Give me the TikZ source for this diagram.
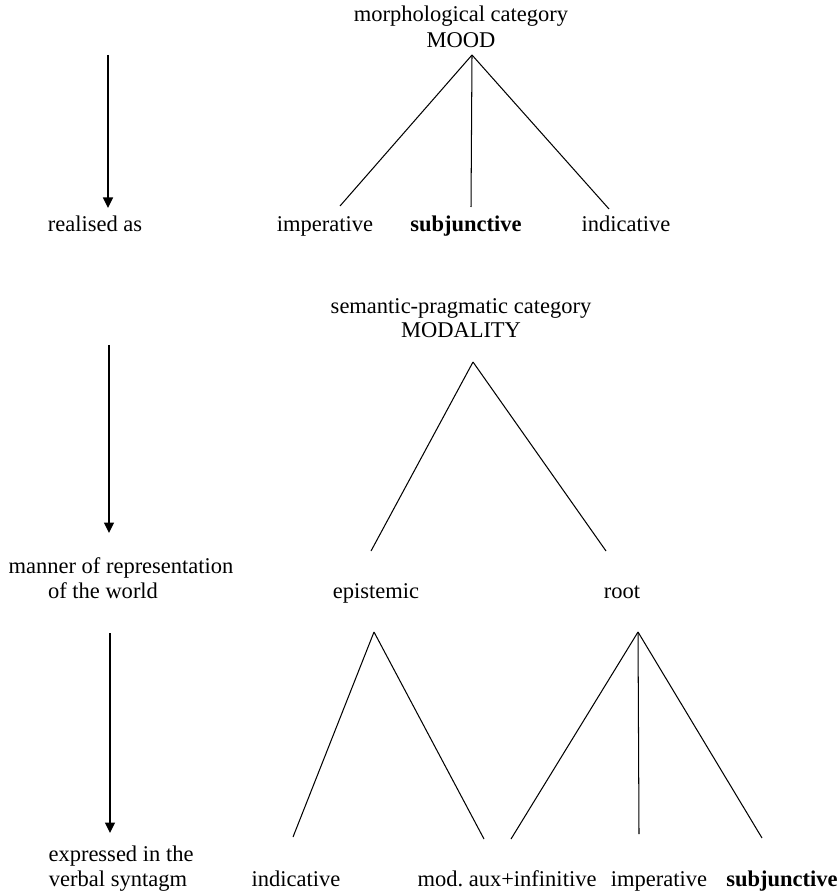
\documentclass[tikz,border=0pt]{standalone}
\usepackage{fontspec}
\setmainfont{Liberation Serif}
\usetikzlibrary{arrows.meta}
\begin{document}
\begin{tikzpicture}[x=0.5333pt,y=-0.5333pt,
  txt/.style={font=\fontsize{12}{14.4}\selectfont, inner sep=0pt, anchor=base},
  bold/.style={txt, font=\fontsize{12}{14.4}\selectfont\bfseries},
  branch/.style={line width=0.55pt},
  flow/.style={line width=0.75pt, -{Triangle[width=5.3pt,length=5.6pt]}}]
\useasboundingbox (0,0) rectangle (839,894);

% ---- top level: MOOD
\node[txt] (morph) at (461,22) {morphological category};
\node[txt] (mood) at (461,48) {MOOD};
\node[txt] (real) at (95,232) {realised as};
\node[txt] (imp1) at (325,232) {imperative};
\node[bold] (sub1) at (466,232) {subjunctive};
\node[txt] (ind1) at (626,232) {indicative};

\coordinate (a1s) at (108,55);
\coordinate (a1e) at (108,208);
\draw[flow] (a1s) -- (a1e);

\coordinate (moodtop) at (472,55);
\coordinate (l1a) at (340,206);
\coordinate (l1b) at (471,207);
\coordinate (l1c) at (609,209);
\draw[branch] (moodtop) -- (l1a);
\draw[branch] (moodtop) -- (l1b);
\draw[branch] (moodtop) -- (l1c);

% ---- MODALITY
\node[txt] (sem) at (461,314) {semantic-pragmatic category};
\node[txt] (modal) at (461,338) {MODALITY};
\node[txt] (man1) at (121,573) {manner of representation};
\node[txt] (man2) at (103,598) {of the world};
\node[txt] (epi) at (376,598) {epistemic};
\node[txt] (root) at (622,598) {root};

\coordinate (a2s) at (109,345);
\coordinate (a2e) at (109,533);
\draw[flow] (a2s) -- (a2e);

\coordinate (modtop) at (473,362);
\coordinate (l2a) at (371,551);
\coordinate (l2b) at (606,551);
\draw[branch] (modtop) -- (l2a);
\draw[branch] (modtop) -- (l2b);

% ---- verbal syntagm
\node[txt] (exp1) at (121,861) {expressed in the};
\node[txt] (exp2) at (118,886) {verbal syntagm};
\node[txt] (ind2) at (296,886) {indicative};
\node[txt] (aux) at (507,886) {mod.\ aux+infinitive};
\node[txt] (imp2) at (659,886) {imperative};
\node[bold] (sub2) at (782,886) {subjunctive};

\coordinate (a3s) at (110,633);
\coordinate (a3e) at (110,833);
\draw[flow] (a3s) -- (a3e);

\coordinate (epitop) at (374,632);
\coordinate (l3a) at (293,837);
\coordinate (l3b) at (484,839);
\draw[branch] (epitop) -- (l3a);
\draw[branch] (epitop) -- (l3b);

\coordinate (roottop) at (638,632);
\coordinate (l4a) at (511,839);
\coordinate (l4b) at (639,834);
\coordinate (l4c) at (762,838);
\draw[branch] (roottop) -- (l4a);
\draw[branch] (roottop) -- (l4b);
\draw[branch] (roottop) -- (l4c);
\end{tikzpicture}
\end{document}
